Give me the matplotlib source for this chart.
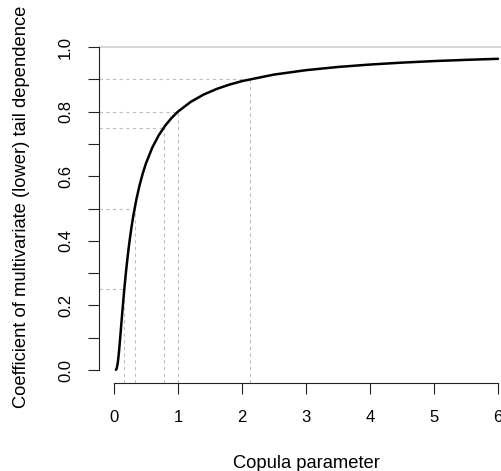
import matplotlib
matplotlib.use("Agg")
import matplotlib.pyplot as plt

# Copula parameter (theta) and coefficient of multivariate lower tail dependence
theta = [0.03, 0.04, 0.05, 0.06, 0.07, 0.08, 0.09, 0.10, 0.115, 0.13, 0.145, 0.16,
         0.18, 0.20, 0.225, 0.25, 0.275, 0.30, 0.35, 0.40, 0.45, 0.50, 0.60, 0.70,
         0.80, 0.90, 1.00, 1.20, 1.40, 1.60, 1.80, 2.00, 2.50, 3.00, 3.50, 4.00,
         4.50, 5.00, 5.50, 6.00]
tail_dep = [0.0006, 0.0038, 0.0115, 0.0243, 0.0413, 0.0615, 0.0838, 0.1074, 0.1436,
            0.1797, 0.2146, 0.2479, 0.2895, 0.3277, 0.3710, 0.4096, 0.4442, 0.4753,
            0.5286, 0.5724, 0.6090, 0.6400, 0.6894, 0.7270, 0.7566, 0.7804, 0.8000,
            0.8303, 0.8527, 0.8698, 0.8834, 0.8944, 0.9146, 0.9283, 0.9382, 0.9457,
            0.9516, 0.9564, 0.9602, 0.9635]

# Reference levels and corresponding parameters
ref_levels = [0.25, 0.5, 0.75, 0.8, 0.9]
ref_params = [0.161, 0.322, 0.776, 1.0, 2.118]

x_ticks = [0, 1, 2, 3, 4, 5, 6]
y_ticks = [0.0, 0.1, 0.2, 0.3, 0.4, 0.5, 0.6, 0.7, 0.8, 0.9, 1.0]
y_ticklabels = ["0.0", "", "0.2", "", "0.4", "", "0.6", "", "0.8", "", "1.0"]

plt.rcParams['font.family'] = ['Liberation Sans', 'DejaVu Sans']

W, H = 502, 471
fig = plt.figure(figsize=(W / 100, H / 100), dpi=100)
left, right, top, bottom = 99, 513, 34, 383
ax = fig.add_axes([left / W, (H - bottom) / H, (right - left) / W, (bottom - top) / H])
ax.set_xlim(-15 / 64, 6 + 15 / 64)
ax.set_ylim(-13 / 323, 1 + 13 / 323)

# horizontal line at 1
ax.axhline(1.0, color="#d3d3d3", lw=1.3, zorder=1)

dash = (0, (3.0, 3.0))
for lv, pr in zip(ref_levels, ref_params):
    ax.plot([ax.get_xlim()[0], pr], [lv, lv], color="#bebebe", lw=0.8, linestyle=dash, zorder=1)
    ax.plot([pr, pr], [ax.get_ylim()[0], lv], color="#bebebe", lw=0.8, linestyle=dash, zorder=1)

ax.plot(theta, tail_dep, color="black", lw=1.8, zorder=3, solid_capstyle="round")

for s in ["top", "right"]:
    ax.spines[s].set_visible(False)
ax.spines["left"].set_bounds(0, 1)
ax.spines["bottom"].set_bounds(0, 6)
for s in ["left", "bottom"]:
    ax.spines[s].set_linewidth(0.8)
    ax.spines[s].set_color("#222222")

ax.set_xticks(x_ticks)
ax.set_yticks(y_ticks)
ax.set_yticklabels(y_ticklabels, rotation=90, va="center")
ax.tick_params(axis="both", direction="out", length=7.8, width=0.8, color="#222222",
               labelsize=12, labelcolor="black")
ax.tick_params(axis="x", pad=12)
ax.tick_params(axis="y", pad=11)

fig.text((99 + 513) / 2 / W, 1 - 463 / H, "Copula parameter", ha="center", va="center", fontsize=13.2)
fig.text(22 / W, 1 - 207 / H, "Coefficient of multivariate (lower) tail dependence",
         ha="center", va="center", rotation=90, fontsize=13.2)

fig.savefig("out.png", dpi=100)
